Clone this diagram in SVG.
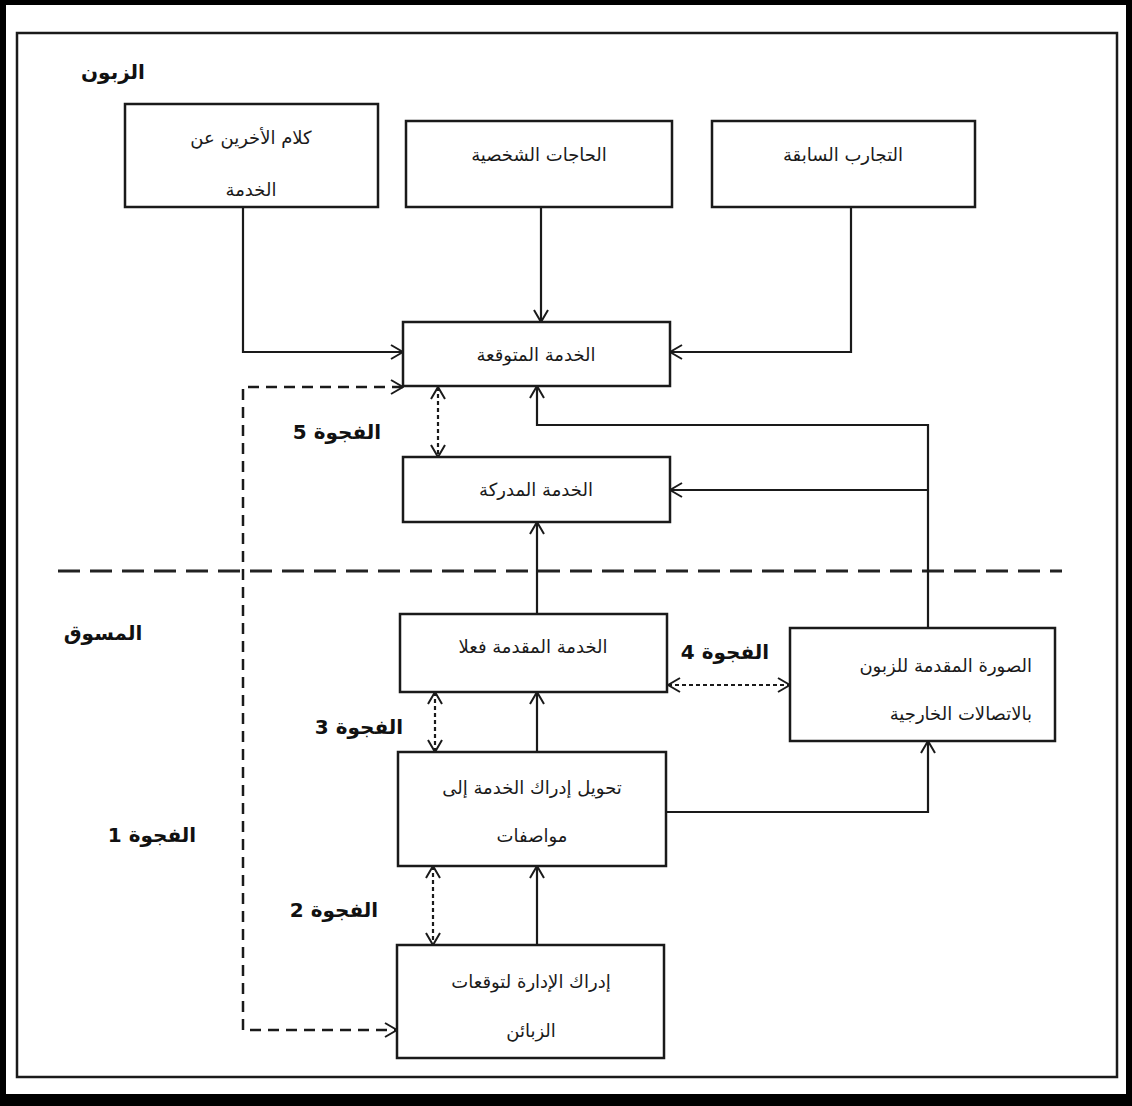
<svg xmlns="http://www.w3.org/2000/svg" width="1132" height="1106" viewBox="0 0 1132 1106">
  <style>
    .box { fill: #ffffff; stroke: #1a1a1a; stroke-width: 2.5; }
    .txt { font-family: "DejaVu Sans", "Noto Sans", sans-serif; font-size: 18px; fill: #1a1a1a; }
    .lbl { font-family: "DejaVu Sans", "Noto Sans", sans-serif; font-size: 20px; font-weight: bold; fill: #111; }
    .solid { fill: none; stroke: #1a1a1a; stroke-width: 2.2; }
    .dash { fill: none; stroke: #1a1a1a; stroke-width: 2.5; stroke-dasharray: 11 7; }
    .dot { fill: none; stroke: #1a1a1a; stroke-width: 2.2; stroke-dasharray: 4 3; }
    .divider { fill: none; stroke: #222; stroke-width: 3; stroke-dasharray: 22 10; }
  </style>
  <defs>
    <marker id="arr" viewBox="0 0 14 16" refX="13" refY="8" markerWidth="14" markerHeight="16" orient="auto-start-reverse" markerUnits="userSpaceOnUse">
      <path d="M1,1 L13,8 L1,15" fill="none" stroke="#1a1a1a" stroke-width="2"/>
    </marker>
  </defs>

  <!-- page frame -->
  <rect x="0" y="0" width="1132" height="1106" fill="#000"/>
  <rect x="6" y="5" width="1120" height="1089" fill="#fff"/>
  <rect x="17" y="33" width="1100" height="1044" fill="none" stroke="#1a1a1a" stroke-width="2.5"/>

  <!-- section labels -->
  <text class="lbl" x="113" y="79" text-anchor="middle" direction="rtl">الزبون</text>
  <text class="lbl" x="103" y="640" text-anchor="middle" direction="rtl">المسوق</text>

  <!-- customer / marketer divider -->
  <line class="divider" x1="58" y1="571" x2="1062" y2="571"/>

  <!-- connectors -->
  <g id="connectors">
    <path class="solid" d="M243,207 V352 H403" marker-end="url(#arr)"/>
    <path class="solid" d="M541,207 V322" marker-end="url(#arr)"/>
    <path class="solid" d="M851,207 V352 H670" marker-end="url(#arr)"/>
    <path class="solid" d="M928,628 V425 H537 V386" marker-end="url(#arr)"/>
    <path class="solid" d="M928,490 H670" marker-end="url(#arr)"/>
    <path class="solid" d="M537,614 V522" marker-end="url(#arr)"/>
    <path class="solid" d="M537,752 V692" marker-end="url(#arr)"/>
    <path class="solid" d="M666,812 H928 V741" marker-end="url(#arr)"/>
    <path class="solid" d="M537,945 V866" marker-end="url(#arr)"/>
    <!-- gap 1 -->
    <path class="dash" d="M403,387 H243 V1030 H397" marker-start="url(#arr)" marker-end="url(#arr)"/>
    <!-- gaps 2 to 5 -->
    <path class="dot" d="M438,387 V457" marker-start="url(#arr)" marker-end="url(#arr)"/>
    <path class="dot" d="M668,685 H790" marker-start="url(#arr)" marker-end="url(#arr)"/>
    <path class="dot" d="M435,692 V752" marker-start="url(#arr)" marker-end="url(#arr)"/>
    <path class="dot" d="M433,866 V945" marker-start="url(#arr)" marker-end="url(#arr)"/>
  </g>

  <!-- gap labels -->
  <text class="lbl" x="337" y="439" text-anchor="middle" direction="rtl">الفجوة 5</text>
  <text class="lbl" x="725" y="659" text-anchor="middle" direction="rtl">الفجوة 4</text>
  <text class="lbl" x="359" y="734" text-anchor="middle" direction="rtl">الفجوة 3</text>
  <text class="lbl" x="334" y="917" text-anchor="middle" direction="rtl">الفجوة 2</text>
  <text class="lbl" x="152" y="842" text-anchor="middle" direction="rtl">الفجوة 1</text>

  <!-- nodes -->
  <g id="word-of-mouth">
    <rect class="box" x="125" y="104" width="253" height="103"/>
    <text class="txt" x="251" y="144" text-anchor="middle" direction="rtl">كلام الأخرين عن</text>
    <text class="txt" x="251" y="196" text-anchor="middle" direction="rtl">الخدمة</text>
  </g>
  <g id="personal-needs">
    <rect class="box" x="406" y="121" width="266" height="86"/>
    <text class="txt" x="539" y="161" text-anchor="middle" direction="rtl">الحاجات الشخصية</text>
  </g>
  <g id="past-experience">
    <rect class="box" x="712" y="121" width="263" height="86"/>
    <text class="txt" x="843" y="161" text-anchor="middle" direction="rtl">التجارب السابقة</text>
  </g>
  <g id="expected-service">
    <rect class="box" x="403" y="322" width="267" height="64"/>
    <text class="txt" x="536" y="361" text-anchor="middle" direction="rtl">الخدمة المتوقعة</text>
  </g>
  <g id="perceived-service">
    <rect class="box" x="403" y="457" width="267" height="65"/>
    <text class="txt" x="536" y="496" text-anchor="middle" direction="rtl">الخدمة المدركة</text>
  </g>
  <g id="delivered-service">
    <rect class="box" x="400" y="614" width="267" height="78"/>
    <text class="txt" x="533" y="653" text-anchor="middle" direction="rtl">الخدمة المقدمة فعلا</text>
  </g>
  <g id="external-communications">
    <rect class="box" x="790" y="628" width="265" height="113"/>
    <text class="txt" x="1032" y="672" text-anchor="start" direction="rtl">الصورة المقدمة للزبون</text>
    <text class="txt" x="1032" y="720" text-anchor="start" direction="rtl">بالاتصالات الخارجية</text>
  </g>
  <g id="service-specifications">
    <rect class="box" x="398" y="752" width="268" height="114"/>
    <text class="txt" x="532" y="794" text-anchor="middle" direction="rtl">تحويل إدراك الخدمة إلى</text>
    <text class="txt" x="532" y="842" text-anchor="middle" direction="rtl">مواصفات</text>
  </g>
  <g id="management-perceptions">
    <rect class="box" x="397" y="945" width="267" height="113"/>
    <text class="txt" x="531" y="988" text-anchor="middle" direction="rtl">إدراك الإدارة لتوقعات</text>
    <text class="txt" x="531" y="1037" text-anchor="middle" direction="rtl">الزبائن</text>
  </g>
</svg>
